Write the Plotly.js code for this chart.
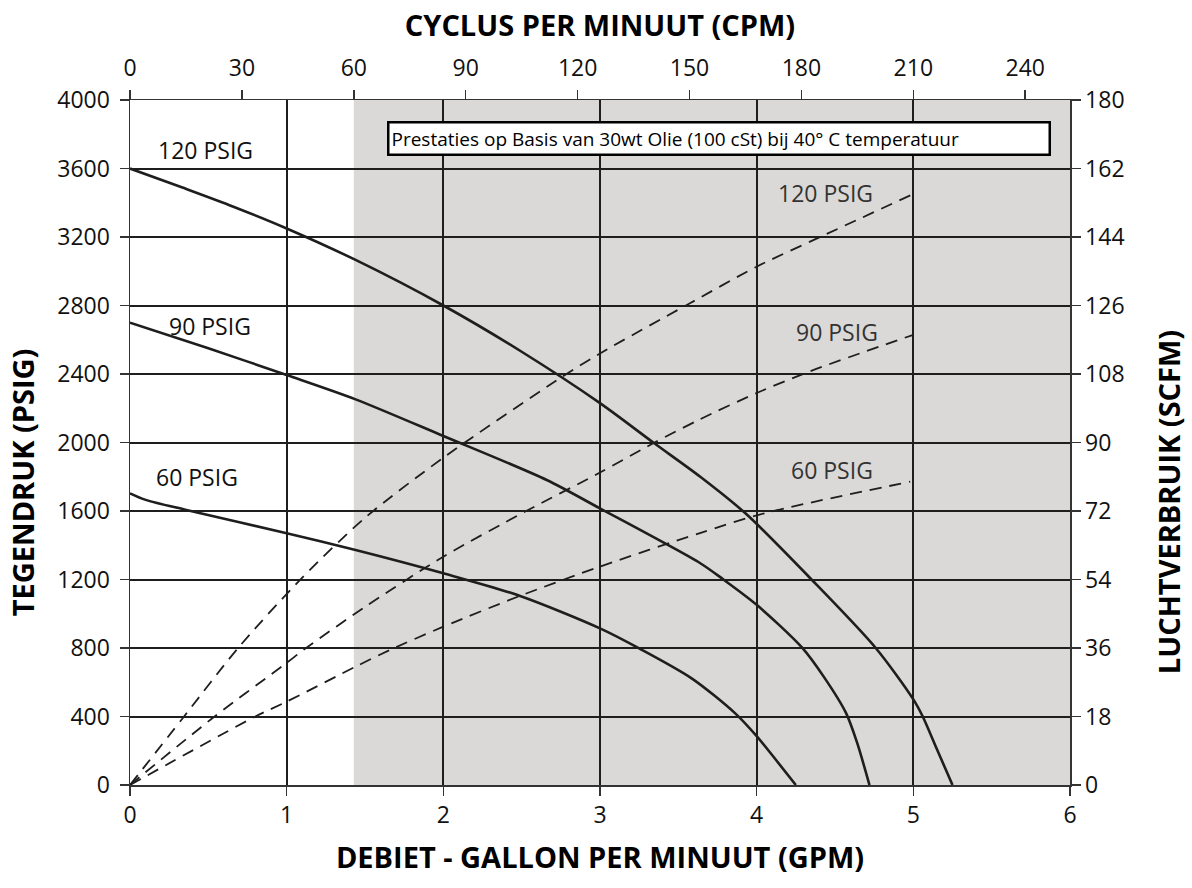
<!DOCTYPE html>
<html>
<head>
<meta charset="utf-8">
<script src="https://cdn.plot.ly/plotly-3.0.1.min.js"></script>
<style>html,body{margin:0;padding:0;background:#fff;}#chart{width:1192px;height:888px;}</style>
</head>
<body>
<div id="chart"></div>
<script>
// ---- Data ----
// Fluid flow (GPM) vs. back pressure (PSIG) for each air inlet pressure
var gpm120 = [0, 0.33, 0.66, 1.0, 1.44, 2.0, 2.5, 3.0, 3.34, 3.64, 3.93, 4.35, 4.76, 5.0, 5.06, 5.15, 5.25];
var psi120 = [3600, 3490, 3377, 3250, 3066, 2800, 2530, 2230, 2000, 1800, 1585, 1200, 800, 500, 400, 210, 0];

var gpm90 = [0, 0.5, 1.0, 1.44, 2.0, 2.66, 3.0, 3.64, 3.78, 4.0, 4.29, 4.43, 4.57, 4.64, 4.72];
var psi90 = [2700, 2550, 2394, 2252, 2038, 1781, 1615, 1295, 1205, 1052, 802, 630, 421, 250, 0];

var gpm60 = [0, 0.1, 0.36, 1.0, 1.44, 2.0, 2.49, 3.0, 3.25, 3.585, 3.86, 4.0, 4.12, 4.25];
var psi60 = [1703, 1665, 1606, 1470, 1372, 1236, 1104, 915, 798, 623, 421, 285, 150, 0];

// Air consumption (SCFM) vs. fluid flow (GPM)
var airGpm120 = [0, 0.345, 0.69, 1.095, 1.5, 2.0, 2.745, 3.0, 3.574, 4.0, 4.4, 5.0];
var scfm120  = [0, 18, 36, 54.3, 70.2, 86, 106.9, 113.4, 126.6, 136.2, 143.9, 155.3];

var airGpm90 = [0, 0.54, 1.0, 1.124, 1.5, 2.0, 2.52, 3.0, 3.34, 3.638, 4.0, 4.34, 5.0];
var scfm90  = [0, 18, 32.1, 36, 46.8, 60, 71.8, 82.1, 89.8, 96.1, 103, 108.7, 118.3];

var airGpm60 = [0, 0.8, 1.0, 1.44, 1.66, 2.0, 2.49, 3.0, 3.638, 4.05, 4.98];
var scfm60  = [0, 18, 21.9, 31.1, 35.5, 41.6, 49.7, 57.4, 66.2, 71.4, 79.7];

// Axis ticks
var gpmTicks = [0, 1, 2, 3, 4, 5, 6];
var psiTicks = [0, 400, 800, 1200, 1600, 2000, 2400, 2800, 3200, 3600, 4000];
var cpmTicks = [0, 30, 60, 90, 120, 150, 180, 210, 240];
var scfmTicks = [0, 18, 36, 54, 72, 90, 108, 126, 144, 162, 180];

// Labels
var curveLabels = ['120 PSIG', '90 PSIG', '60 PSIG'];
var noteText = 'Prestaties op Basis van 30wt Olie (100 cSt) bij 40° C temperatuur';
var titleTop = 'CYCLUS PER MINUUT (CPM)';
var titleBottom = 'DEBIET - GALLON PER MINUUT (GPM)';
var titleLeft = 'TEGENDRUK (PSIG)';
var titleRight = 'LUCHTVERBRUIK (SCFM)';
var shadeStartCpm = 60;
var cpmPerGpm = 42;

// ---- Chart ----
var FONT = 'Open Sans, Noto Sans, sans-serif';
var solid = {color: '#1e1e1e', width: 2.6, shape: 'spline', smoothing: 0.8};
var dashed = {color: '#1e1e1e', width: 1.8, dash: '12px,8px', shape: 'spline', smoothing: 0.8};

var traces = [
  {x: gpm120, y: psi120, mode: 'lines', line: solid, xaxis: 'x', yaxis: 'y', hoverinfo: 'skip'},
  {x: gpm90, y: psi90, mode: 'lines', line: solid, xaxis: 'x', yaxis: 'y', hoverinfo: 'skip'},
  {x: gpm60, y: psi60, mode: 'lines', line: solid, xaxis: 'x', yaxis: 'y', hoverinfo: 'skip'},
  {x: airGpm120, y: scfm120, mode: 'lines', line: dashed, xaxis: 'x', yaxis: 'y2', hoverinfo: 'skip'},
  {x: airGpm90, y: scfm90, mode: 'lines', line: dashed, xaxis: 'x', yaxis: 'y2', hoverinfo: 'skip'},
  {x: airGpm60, y: scfm60, mode: 'lines', line: dashed, xaxis: 'x', yaxis: 'y2', hoverinfo: 'skip'},
  // invisible trace to activate the top CPM axis
  {x: [0, 6 * cpmPerGpm], y: [0, 0], mode: 'markers', marker: {opacity: 0}, xaxis: 'x2', yaxis: 'y', hoverinfo: 'skip'}
];

var tickFont = {family: FONT, size: 23, color: '#111'};
var titleFont = {family: FONT, size: 29, color: '#000', weight: 'bold'};
var labelFont = {family: FONT, size: 23, color: '#111'};
var labelFontGray = {family: FONT, size: 23, color: '#333'};

var layout = {
  width: 1192, height: 888,
  margin: {l: 130, r: 122, t: 100, b: 103},
  paper_bgcolor: '#fff', plot_bgcolor: '#fff',
  showlegend: false,
  font: {family: FONT, color: '#111'},
  xaxis: {
    range: [0, 6], tickvals: gpmTicks, ticks: 'outside', ticklen: 9, tickwidth: 1.5, tickcolor: '#333',
    showgrid: true, gridcolor: '#1e1e1e', gridwidth: 2, zeroline: false,
    showline: true, linecolor: '#333', linewidth: 1.5,
    tickfont: tickFont,
    title: {text: titleBottom, font: titleFont, standoff: 18}
  },
  xaxis2: {
    overlaying: 'x', side: 'top', anchor: 'y', range: [0, 6 * cpmPerGpm], tickvals: cpmTicks,
    ticks: 'outside', ticklen: 9, tickwidth: 1.5, tickcolor: '#333',
    showgrid: false, zeroline: false, showline: true, linecolor: '#333', linewidth: 1.5,
    tickfont: tickFont, ticklabelstandoff: 4,
    title: {text: titleTop, font: titleFont, standoff: 6}
  },
  yaxis: {
    range: [0, 4000], tickvals: psiTicks, ticks: 'outside', ticklen: 9, tickwidth: 1.5, tickcolor: '#333',
    showgrid: true, gridcolor: '#1e1e1e', gridwidth: 2, zeroline: false,
    showline: true, linecolor: '#333', linewidth: 1.5,
    tickfont: tickFont, ticklabelstandoff: 5
  },
  yaxis2: {
    overlaying: 'y', side: 'right', anchor: 'x', range: [0, 180], tickvals: scfmTicks,
    ticks: 'outside', ticklen: 9, tickwidth: 1.5, tickcolor: '#333',
    showgrid: false, zeroline: false, showline: true, linecolor: '#333', linewidth: 1.5,
    tickfont: tickFont
  },
  shapes: [
    {type: 'rect', xref: 'x2', yref: 'paper', x0: shadeStartCpm, x1: 6 * cpmPerGpm, y0: 0, y1: 1,
     fillcolor: '#dad9d7', line: {width: 0}, layer: 'below'}
  ],
  annotations: [
    {xref: 'paper', yref: 'paper', x: -0.1149, y: 0.442, textangle: -90, text: titleLeft, showarrow: false,
     xanchor: 'center', yanchor: 'middle', font: titleFont},
    {xref: 'paper', yref: 'paper', x: 1.1043, y: 0.413, textangle: -90, text: titleRight, showarrow: false,
     xanchor: 'center', yanchor: 'middle', font: titleFont},
    {xref: 'paper', yref: 'paper', x: 0.2734, y: 0.969, xanchor: 'left', yanchor: 'top',
     text: noteText, showarrow: false, align: 'left', width: 655, borderpad: 2,
     bgcolor: '#fff', bordercolor: '#000', borderwidth: 2.5,
     font: {family: FONT, size: 19, color: '#000'}},
    {xref: 'x', yref: 'y', x: 0.48, y: 3708, text: curveLabels[0], showarrow: false, font: labelFont},
    {xref: 'x', yref: 'y', x: 0.51, y: 2680, text: curveLabels[1], showarrow: false, font: labelFont},
    {xref: 'x', yref: 'y', x: 0.43, y: 1799, text: curveLabels[2], showarrow: false, font: labelFont},
    {xref: 'x', yref: 'y', x: 4.44, y: 3455, text: curveLabels[0], showarrow: false, font: labelFontGray},
    {xref: 'x', yref: 'y', x: 4.51, y: 2643, text: curveLabels[1], showarrow: false, font: labelFontGray},
    {xref: 'x', yref: 'y', x: 4.48, y: 1839, text: curveLabels[2], showarrow: false, font: labelFontGray}
  ]
};

Plotly.newPlot('chart', traces, layout, {staticPlot: true, displayModeBar: false});
</script>
</body>
</html>
